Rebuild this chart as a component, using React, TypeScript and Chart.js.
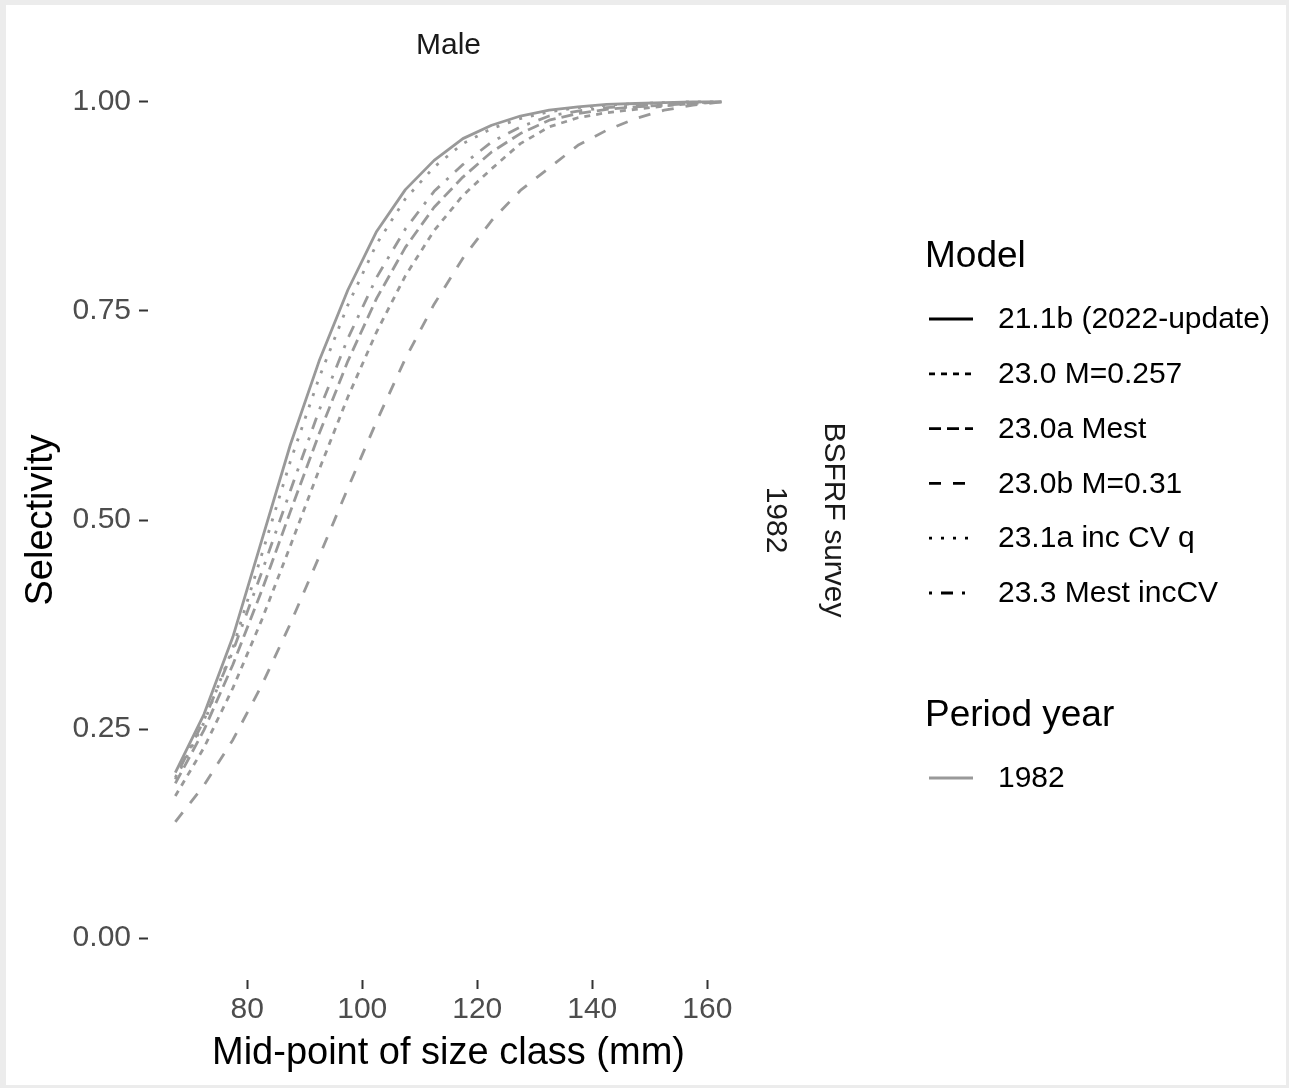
import { useEffect, useRef } from "react";
import { Chart, registerables } from "chart.js";

Chart.register(...registerables);

// Size-class mid-points (mm)
const sizeClasses = [
  67.5, 72.5, 77.5, 82.5, 87.5, 92.5, 97.5, 102.5, 107.5, 112.5,
  117.5, 122.5, 127.5, 132.5, 137.5, 142.5, 147.5, 152.5, 157.5, 162.5,
];

// Selectivity by model, BSFRF survey, males, 1982
const sel_21_1b = [
  0.198, 0.268, 0.36, 0.475, 0.59, 0.69, 0.775, 0.845, 0.895, 0.93,
  0.956, 0.972, 0.983, 0.99, 0.994, 0.997, 0.998, 0.999, 1.0, 1.0,
];
const sel_23_0 = [
  0.17, 0.228, 0.299, 0.38, 0.469, 0.56, 0.647, 0.725, 0.792, 0.846,
  0.888, 0.92, 0.95, 0.97, 0.981, 0.987, 0.991, 0.995, 0.998, 1.0,
];
const sel_23_0a = [
  0.185, 0.249, 0.327, 0.415, 0.51, 0.603, 0.69, 0.765, 0.826, 0.874,
  0.91, 0.94, 0.962, 0.978, 0.986, 0.991, 0.994, 0.996, 0.998, 1.0,
];
const sel_23_0b = [
  0.139, 0.183, 0.237, 0.302, 0.376, 0.456, 0.538, 0.618, 0.693, 0.758,
  0.813, 0.858, 0.894, 0.921, 0.948, 0.966, 0.98, 0.99, 0.996, 1.0,
];
const sel_23_1a = [
  0.19, 0.258, 0.347, 0.458, 0.57, 0.67, 0.757, 0.83, 0.884, 0.922,
  0.95, 0.968, 0.98, 0.988, 0.993, 0.996, 0.998, 0.999, 1.0, 1.0,
];
const sel_23_3 = [
  0.192, 0.261, 0.343, 0.437, 0.535, 0.631, 0.717, 0.79, 0.848, 0.893,
  0.925, 0.952, 0.97, 0.983, 0.989, 0.993, 0.995, 0.997, 0.999, 1.0,
];

const modelNames = [
  "21.1b (2022-update)",
  "23.0 M=0.257",
  "23.0a Mest",
  "23.0b M=0.31",
  "23.1a inc CV q",
  "23.3 Mest incCV",
];
const modelSeries = [sel_21_1b, sel_23_0, sel_23_0a, sel_23_0b, sel_23_1a, sel_23_3];

const periodYears = ["1982"];
const fleetName = "BSFRF survey";
const sexName = "Male";

const xTicks = [80, 100, 120, 140, 160];
const yTicks = [0, 0.25, 0.5, 0.75, 1.0];

const xTitle = "Mid-point of size class (mm)";
const yTitle = "Selectivity";

// ggplot-style line types, in units of the line width
const U = 3;
const lineTypes: number[][] = [
  [],
  [2 * U, 2 * U],
  [4 * U, 2 * U],
  [4 * U, 4 * U],
  [1 * U, 3 * U],
  [1 * U, 3 * U, 4 * U, 3 * U],
];

const FONT = '"Liberation Sans", Arial, Helvetica, sans-serif';
const LINE_GREY = "#999999";

const decorations = {
  id: "decorations",
  beforeDraw(chart: any) {
    const { ctx, width, height } = chart;
    ctx.save();
    ctx.fillStyle = "#ffffff";
    ctx.fillRect(0, 0, width, height);
    // soft paper frame
    ctx.fillStyle = "#ececec";
    ctx.fillRect(0, 0, width, 5);
    ctx.fillRect(0, 0, 6, height);
    ctx.fillRect(width - 3, 0, 3, height);
    ctx.fillRect(0, height - 3, width, 3);
    ctx.restore();
  },
  afterDraw(chart: any) {
    const { ctx, chartArea } = chart;
    const cx = (chartArea.left + chartArea.right) / 2;
    const cy = (chartArea.top + chartArea.bottom) / 2;
    ctx.save();
    ctx.textBaseline = "middle";

    // facet strips
    ctx.fillStyle = "#1a1a1a";
    ctx.font = `30px ${FONT}`;
    ctx.textAlign = "center";
    ctx.fillText(sexName, cx, 46);

    ctx.save();
    ctx.translate(chartArea.right + 26, cy);
    ctx.rotate(Math.PI / 2);
    ctx.fillText(periodYears[0], 0, 0);
    ctx.restore();

    ctx.save();
    ctx.translate(chartArea.right + 84, cy);
    ctx.rotate(Math.PI / 2);
    ctx.fillText(fleetName, 0, 0);
    ctx.restore();

    // axis titles
    ctx.fillStyle = "#000000";
    ctx.font = `38px ${FONT}`;
    ctx.fillText(xTitle, cx, 1054);
    ctx.save();
    ctx.translate(42, cy);
    ctx.rotate(-Math.PI / 2);
    ctx.fillText(yTitle, 0, 0);
    ctx.restore();

    // legend: Model
    const keyX0 = 929;
    const keyX1 = 973;
    const textX = 998;
    ctx.textAlign = "left";
    ctx.fillStyle = "#000000";
    ctx.font = `37px ${FONT}`;
    ctx.fillText("Model", 925, 257);

    ctx.font = `30px ${FONT}`;
    const rowY0 = 319;
    const rowStep = 54.8;
    modelNames.forEach((name, i) => {
      const y = rowY0 + i * rowStep;
      ctx.save();
      ctx.strokeStyle = "#000000";
      ctx.lineWidth = 2.8;
      ctx.lineCap = "butt";
      ctx.setLineDash(lineTypes[i]);
      ctx.beginPath();
      ctx.moveTo(keyX0, y);
      ctx.lineTo(keyX1, y);
      ctx.stroke();
      ctx.restore();
      ctx.fillStyle = "#000000";
      ctx.fillText(name, textX, y + 1);
    });

    // legend: Period year
    ctx.font = `37px ${FONT}`;
    ctx.fillText("Period year", 925, 716);
    ctx.font = `30px ${FONT}`;
    periodYears.forEach((yr, i) => {
      const y = 778 + i * rowStep;
      ctx.save();
      ctx.strokeStyle = LINE_GREY;
      ctx.lineWidth = 2.8;
      ctx.beginPath();
      ctx.moveTo(keyX0, y);
      ctx.lineTo(keyX1, y);
      ctx.stroke();
      ctx.restore();
      ctx.fillStyle = "#000000";
      ctx.fillText(yr, textX, y + 1);
    });

    ctx.restore();
  },
};

export default function App() {
  const canvasRef = useRef<HTMLCanvasElement | null>(null);

  useEffect(() => {
    const canvas = canvasRef.current;
    if (!canvas) return;

    const datasets = modelSeries.map((series, i) => ({
      label: `${modelNames[i]} ${periodYears[0]}`,
      data: sizeClasses.map((s, j) => ({ x: s, y: series[j] })),
      borderColor: LINE_GREY,
      backgroundColor: LINE_GREY,
      borderWidth: 2.8,
      borderDash: lineTypes[i],
      borderCapStyle: "butt" as const,
      borderJoinStyle: "round" as const,
      pointRadius: 0,
      pointHoverRadius: 0,
      tension: 0,
      fill: false,
    }));

    const tickGrid = {
      display: true,
      drawOnChartArea: false,
      drawTicks: true,
      tickLength: 9,
      tickColor: "#333333",
      tickWidth: 2,
    };

    const chart = new Chart(canvas, {
      type: "line",
      data: { datasets },
      options: {
        responsive: false,
        animation: false,
        devicePixelRatio: 1,
        layout: { padding: { left: 8, right: 540, top: 60, bottom: 0 } },
        plugins: {
          legend: { display: false },
          tooltip: { enabled: false },
          title: { display: false },
        },
        scales: {
          x: {
            type: "linear",
            min: 62.75,
            max: 167.25,
            afterBuildTicks: (scale: any) => {
              scale.ticks = xTicks.map((v) => ({ value: v }));
            },
            afterFit: (scale: any) => {
              scale.height = 108;
            },
            grid: tickGrid,
            border: { display: false },
            ticks: {
              autoSkip: false,
              maxRotation: 0,
              padding: 3,
              color: "#4d4d4d",
              font: { size: 30, family: FONT },
              callback: (v: any) => String(v),
            },
          },
          y: {
            type: "linear",
            min: -0.05,
            max: 1.05,
            afterBuildTicks: (scale: any) => {
              scale.ticks = yTicks.map((v) => ({ value: v }));
            },
            afterFit: (scale: any) => {
              scale.width = 140;
            },
            grid: tickGrid,
            border: { display: false },
            ticks: {
              autoSkip: false,
              padding: 8,
              color: "#4d4d4d",
              font: { size: 30, family: FONT },
              callback: (v: any) => Number(v).toFixed(2),
            },
          },
        },
      },
      plugins: [decorations],
    });

    return () => {
      chart.destroy();
    };
  }, []);

  return (
    <div style={{ position: "fixed", left: 0, top: 0, width: 1289, height: 1088 }}>
      <canvas ref={canvasRef} width={1289} height={1088} style={{ width: 1289, height: 1088, display: "block" }} />
    </div>
  );
}
